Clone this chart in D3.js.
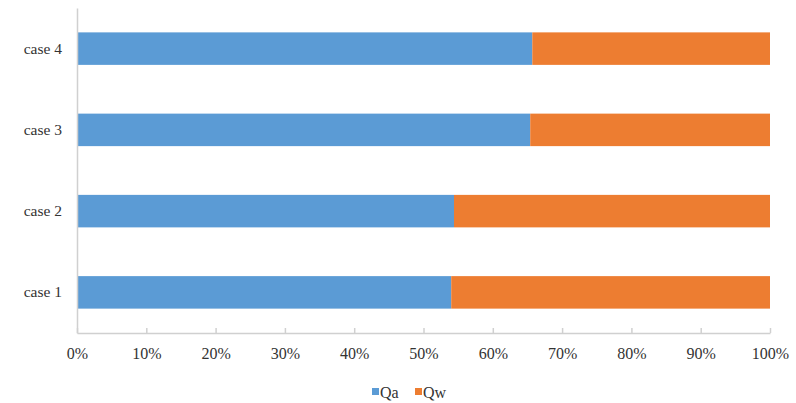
<!DOCTYPE html>
<html><head><meta charset="utf-8">
<script src="https://cdn.jsdelivr.net/npm/d3@7"></script>
<style>body{margin:0;background:#fff}svg{display:block}</style>
</head><body>
<svg id="chart" width="796" height="403"></svg>
<script>
const categories = ["case 1", "case 2", "case 3", "case 4"];
const seriesNames = ["Qa", "Qw"];
const qa = [54.0, 54.4, 65.4, 65.7];
const qw = [46.0, 45.6, 34.6, 34.3];
const tickValues = [0, 10, 20, 30, 40, 50, 60, 70, 80, 90, 100];
const colors = ["#5B9BD5", "#ED7D31"];

const svg = d3.select("#chart");
const m = {left: 77, right: 26, top: 8, bottom: 70};
const W = 796, H = 403;
const x = d3.scaleLinear().domain([0, 100]).range([m.left, W - m.right]);
const y = d3.scaleBand().domain(categories.slice().reverse()).range([m.top, H - m.bottom]).paddingInner(0.6).paddingOuter(0.3);

const data = categories.map((c, i) => ({cat: c, Qa: qa[i], Qw: qw[i]}));
const stack = d3.stack().keys(seriesNames).offset(d3.stackOffsetExpand)(data);
const font = "'Liberation Serif','Times New Roman',serif";

svg.append("g").selectAll("g").data(stack).join("g")
  .attr("fill", (d, i) => colors[i])
  .selectAll("rect").data(d => d).join("rect")
  .attr("x", d => x(d[0] * 100))
  .attr("width", d => x(d[1] * 100) - x(d[0] * 100))
  .attr("y", d => y(d.data.cat))
  .attr("height", y.bandwidth());

// x axis
const xa = svg.append("g").attr("transform", `translate(0,${H - m.bottom})`)
  .call(d3.axisBottom(x).tickValues(tickValues).tickFormat(d => d + "%").tickSizeInner(-5).tickSizeOuter(0).tickPadding(15));
xa.select(".domain").attr("stroke", "#d0d0d0").attr("stroke-width", 1.5);
xa.selectAll(".tick line").attr("stroke", "#d0d0d0").attr("stroke-width", 1.5);
xa.selectAll("text").attr("font-family", font).attr("font-size", 16).attr("fill", "#333");

// y axis
const ya = svg.append("g").attr("transform", `translate(${m.left},0)`)
  .call(d3.axisLeft(y).tickSize(0).tickPadding(15));
ya.select(".domain").attr("stroke", "#d0d0d0").attr("stroke-width", 1.5);
ya.selectAll("text").attr("font-family", font).attr("font-size", 15.5).attr("fill", "#333");

// legend
const lg = svg.append("g").attr("transform", "translate(372,392)");
const lx = [0, 43];
seriesNames.forEach((s, i) => {
  lg.append("rect").attr("x", lx[i]).attr("y", -4).attr("width", 7).attr("height", 7).attr("fill", colors[i]);
  lg.append("text").attr("x", lx[i] + 8).attr("y", 0).attr("dy", "0.35em")
    .attr("font-family", font).attr("font-size", 16).attr("fill", "#333").text(s);
});
</script>
</body></html>
